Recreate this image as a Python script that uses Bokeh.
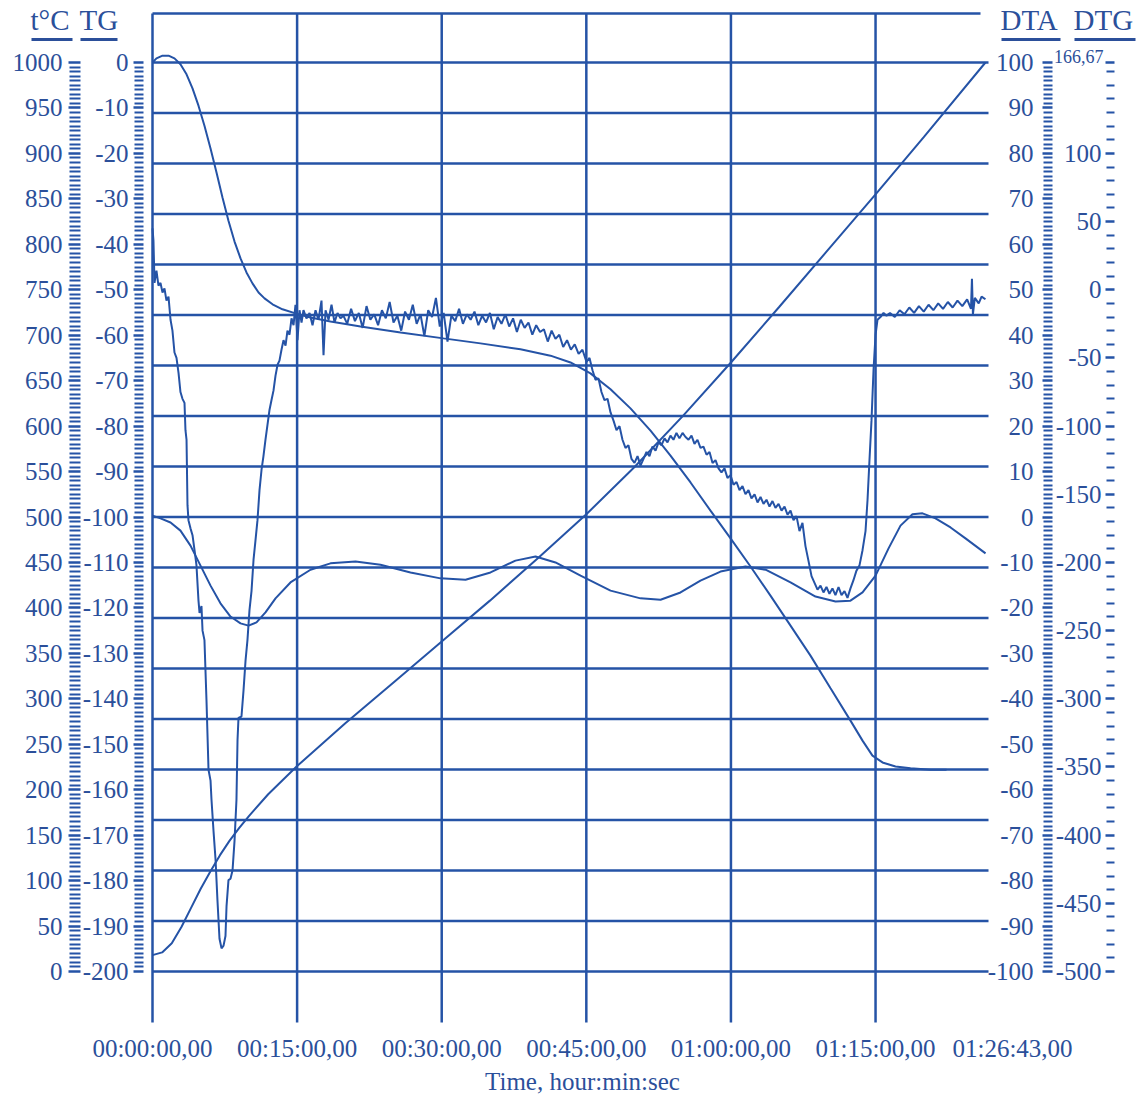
from bokeh.plotting import figure
from bokeh.models import Range1d, LinearAxis, FixedTicker, Label
from bokeh.embed import file_html
from bokeh.resources import INLINE

# ---------------- data ----------------
T_END = 86.7167  # 01:26:43

X_TICKS = [0, 15, 30, 45, 60, 75]
X_LABELS = ["00:00:00,00", "00:15:00,00", "00:30:00,00", "00:45:00,00", "01:00:00,00", "01:15:00,00"]
X_LAST_LABEL = "01:26:43,00"
X_TITLE = "Time, hour:min:sec"

TC_TICKS = [0, 50, 100, 150, 200, 250, 300, 350, 400, 450, 500, 550, 600, 650, 700, 750, 800, 850, 900, 950, 1000]
TG_TICKS = [0, -10, -20, -30, -40, -50, -60, -70, -80, -90, -100, -110, -120, -130, -140, -150, -160, -170, -180, -190, -200]
DTA_TICKS = [100, 90, 80, 70, 60, 50, 40, 30, 20, 10, 0, -10, -20, -30, -40, -50, -60, -70, -80, -90, -100]
DTG_TICKS = [100, 50, 0, -50, -100, -150, -200, -250, -300, -350, -400, -450, -500]
DTG_TOP = 166.67
DTG_TOP_LABEL = "166,67"
TITLES = ["t°C", "TG", "DTA", "DTG"]

# temperature, °C
TEMP_T = [0, 1, 2, 3, 4, 5, 6, 7, 8, 9, 10, 12, 15, 20, 25, 30, 35, 40, 45, 50, 55, 60, 65, 70, 75, 80, 86.4]
TEMP_V = [18, 21, 31, 49, 70, 91, 110, 128, 144, 158, 171, 195, 226, 273, 318, 363, 408, 455, 503, 555, 611, 670, 731, 793, 855, 918, 1000]

# TG, mg
TG_T = [0, 0.41, 1.04, 1.66, 2.28, 2.90, 3.53, 4.15, 4.77, 5.39,
        6.02, 6.64, 7.26, 7.88, 8.51, 9.13, 9.75, 10.37, 11.00, 11.62,
        12.45, 13.48, 14.83, 16.39, 18.46, 21.58, 25.73, 30.19, 34.02, 38.17,
        41.28, 43.36, 45.43, 47.51, 49.58, 51.66, 53.73, 55.81, 57.88, 59.96,
        62.03, 64.10, 66.18, 68.25, 70.33, 72.40, 73.65, 74.68, 75.72, 77.07,
        78.63, 80.70, 82.36]
TG_V = [0, 0.9, 1.5, 1.5, 0.9, -0.4, -2.6, -5.7, -9.5, -13.9,
        -18.9, -24.2, -29.7, -34.8, -39.4, -43.1, -46.2, -48.6, -50.6, -51.9,
        -53.2, -54.3, -55.2, -56.1, -57.0, -58.1, -59.4, -60.7, -61.8, -63.1,
        -64.5, -66.0, -68.4, -71.9, -76.1, -81.0, -86.5, -92.4, -98.6, -104.7,
        -110.9, -117.3, -123.9, -130.5, -137.7, -144.8, -149.2, -152.5, -154.0, -154.9,
        -155.3, -155.6, -155.6]

# DTA
DTA_T = [0, 0.83, 1.87, 2.90, 3.94, 4.98, 6.02, 7.05, 8.09, 9.13,
         9.96, 10.79, 11.72, 12.76, 14.31, 16.39, 18.46, 21.06, 23.65, 26.76,
         29.87, 32.47, 35.06, 37.65, 39.73, 41.80, 44.40, 47.51, 50.62, 52.70,
         54.77, 56.84, 58.92, 61.51, 63.59, 66.18, 68.77, 70.85, 72.40, 73.65,
         75.00, 76.35, 77.59, 78.83, 79.87, 81.22, 82.78, 84.33, 86.41]
DTA_V = [0.3, -0.3, -1.2, -3.0, -6.3, -10.7, -15.1, -19.0, -21.9, -23.4,
         -23.9, -23.2, -21.0, -17.9, -14.4, -11.6, -10.2, -9.8, -10.5, -12.2,
         -13.5, -13.8, -12.2, -9.6, -8.7, -10.0, -12.9, -16.2, -17.9, -18.2,
         -16.6, -14.0, -12.0, -10.9, -11.6, -14.4, -17.5, -18.6, -18.4, -16.6,
         -12.9, -6.9, -1.9, 0.6, 0.8, -0.3, -2.3, -4.7, -8.0]

# DTG
DTG_T = [0.00, 0.10, 0.21, 0.41, 0.62, 0.83, 1.04, 1.24, 1.45, 1.66,
         1.87, 2.07, 2.28, 2.49, 2.70, 2.90, 3.11, 3.32, 3.42, 3.53,
         3.63, 3.73, 3.94, 4.15, 4.36, 4.56, 4.77, 4.88, 5.08, 5.19,
         5.39, 5.60, 5.81, 6.02, 6.12, 6.33, 6.54, 6.74, 6.95, 7.16,
         7.37, 7.57, 7.68, 7.88, 8.09, 8.30, 8.51, 8.71, 8.82, 8.92,
         9.23, 9.44, 9.65, 9.85, 10.06, 10.27, 10.48, 10.68, 10.89, 11.10,
         11.31, 11.51, 11.72, 11.93, 12.14, 12.34, 12.55, 12.76, 12.97, 13.17,
         13.38, 13.59, 13.80, 14.00, 14.21, 14.42, 14.63, 14.83, 15.04, 15.25,
         15.46, 15.66, 15.97, 16.29, 16.60, 16.91, 17.22, 17.53, 17.74, 17.95,
         18.26, 18.57, 18.88, 19.19, 19.50,
         19.8, 20.2, 20.6, 21.0, 21.4, 21.8, 22.2, 22.6, 23.0, 23.4,
         23.8, 24.2, 24.6, 25.0, 25.4, 25.8, 26.2, 26.6, 27.0, 27.4,
         27.8, 28.2, 28.6, 29.0, 29.4, 29.8, 30.2, 30.6, 31.0, 31.4,
         31.8, 32.2, 32.6, 33.0, 33.4, 33.8, 34.2, 34.6, 35.0, 35.4,
         35.8, 36.2, 36.6, 37.0, 37.4, 37.8, 38.2, 38.6, 39.0, 39.4,
         39.8, 40.2, 40.6, 41.0, 41.4, 41.8, 42.2, 42.6, 43.0, 43.4,
         43.8, 44.2, 44.6,
         45.02, 45.33, 45.64, 45.95, 46.26, 46.57, 46.88, 47.20, 47.51, 47.82,
         48.13, 48.44, 48.75, 49.06, 49.37, 49.68, 50.00, 50.31, 50.62, 50.93,
         51.24, 51.55, 51.86, 52.18, 52.49, 52.80, 53.11, 53.42, 53.73, 54.04,
         54.35, 54.66, 54.98, 55.29, 55.60, 55.91, 56.22, 56.53, 56.84, 57.15,
         57.47, 57.78, 58.09, 58.40, 58.71, 59.02, 59.33, 59.64, 59.96, 60.27,
         60.58, 60.89, 61.20, 61.51, 61.82, 62.13, 62.45, 62.76, 63.07, 63.38,
         63.69, 64.00, 64.31, 64.62, 64.94, 65.25, 65.56, 65.87, 66.18, 66.49,
         66.80, 67.11, 67.42, 67.73, 68.05, 68.36, 68.67, 68.98, 69.29, 69.60,
         69.91, 70.22, 70.53, 70.84, 71.16, 71.47, 71.78, 72.09, 72.40, 72.71,
         73.02, 73.34, 73.65, 73.96, 74.17, 74.37, 74.58, 74.79, 75.00, 75.20,
         75.51, 75.83, 76.14,
         76.5, 77.0, 77.5, 78.0, 78.5, 79.0, 79.5, 80.0, 80.5, 81.0,
         81.5, 82.0, 82.5, 83.0, 83.5, 84.0, 84.5, 84.9, 85.0, 85.1,
         85.3, 85.7, 86.0, 86.4]
DTG_V = [45, 36, 5, 14, 3, 5, -2, 1, -8, -5,
         -22, -30, -46, -50, -61, -75, -80, -83, -103, -110,
         -158, -169, -175, -180, -191, -202, -228, -237, -232, -250,
         -257, -301, -352, -360, -374, -397, -418, -448, -476, -483,
         -481, -474, -452, -433, -432, -426, -404, -374, -330, -314,
         -313, -294, -272, -257, -235, -221, -198, -184, -169, -147,
         -132, -122, -110, -99, -88, -81, -74, -63, -55, -52,
         -44, -37, -41, -30, -33, -21, -26, -11, -37, -15,
         -24, -15, -21, -17, -26, -15, -22, -8, -48, -15,
         -22, -11, -24, -17, -21,
         -19, -25, -14, -23, -17, -28, -12, -22, -18, -26,
         -15, -21, -9, -24, -19, -30, -16, -22, -11, -25,
         -18, -34, -15, -20, -6, -27, -17, -38, -19, -23,
         -14, -25, -18, -22, -16, -26, -19, -24, -17, -29,
         -20, -25, -18, -27, -21, -31, -22, -28, -24, -33,
         -26, -31, -29, -38, -30, -36, -33, -42, -37, -44,
         -40, -47, -44,
         -53, -50, -59, -66, -65, -75, -81, -80, -90, -96,
         -103, -100, -110, -116, -114, -124, -127, -122, -129, -124,
         -119, -122, -115, -118, -112, -114, -109, -112, -107, -110,
         -105, -109, -105, -108, -110, -107, -113, -110, -116, -115,
         -121, -119, -127, -125, -131, -134, -131, -138, -136, -143,
         -141, -147, -144, -150, -147, -153, -150, -156, -152, -157,
         -154, -159, -155, -160, -157, -162, -159, -165, -162, -169,
         -166, -177, -171, -188, -199, -210, -215, -220, -217, -222,
         -218, -223, -219, -224, -218, -224, -221, -226, -219, -213,
         -206, -202, -191, -177, -154, -125, -96, -59, -33, -22,
         -20, -17, -19,
         -17, -20, -15, -18, -13, -17, -12, -16, -11, -15,
         -10, -14, -9, -13, -8, -12, -7, -14, 8, -18,
         -6, -10, -5, -7]

# ---------------- style / layout ----------------
LINE = "#2553a6"
TXT = "#2b4f9a"
FONT = "Liberation Serif"
W, H = 1143, 1097
CL, CR, CT, CB = 152, 988, 13, 1022        # chart box (px)
Y1000, Y0 = 62, 971                        # pixel rows of 1000 °C and 0 °C
PXC = (Y0 - Y1000) / 1000.0                # px per °C


def sx(px):  # screen x -> minutes
    return (px - CL) / (CR - CL) * T_END


def sy(py):  # screen y -> °C scale
    return (Y0 - py) / PXC


tc_lo, tc_hi = sy(H), sy(0)

p = figure(width=W, height=H, x_range=Range1d(sx(0), sx(W)), y_range=Range1d(tc_lo, tc_hi),
           x_axis_location=None, y_axis_location=None, output_backend="svg",
           toolbar_location=None, min_border=0, min_border_left=0, min_border_right=0,
           min_border_top=0, min_border_bottom=0)
p.outline_line_color = None
p.background_fill_color = "white"
p.border_fill_color = "white"
p.grid.visible = False

p.extra_y_ranges = {
    "tg": Range1d(tc_lo / 5 - 200, tc_hi / 5 - 200),
    "dta": Range1d(tc_lo / 5 - 100, tc_hi / 5 - 100),
    "dtg": Range1d(tc_lo * 0.66667 - 500, tc_hi * 0.66667 - 500),
}

# grid lines (18 equal bands between 0 and 1000 °C) and time lines
GRID_Y = [k * 1000 / 18 for k in range(19)]
p.segment(x0=[0] * len(GRID_Y), y0=GRID_Y, x1=[T_END] * len(GRID_Y), y1=GRID_Y,
          line_color=LINE, line_width=2.5)
p.segment(x0=X_TICKS, y0=[sy(CT)] * len(X_TICKS), x1=X_TICKS, y1=[sy(CB)] * len(X_TICKS),
          line_color=LINE, line_width=2.5)
p.segment(x0=[0], y0=[sy(CT)], x1=[sx(980)], y1=[sy(CT)], line_color=LINE, line_width=2.5)

# curves
p.line(TEMP_T, TEMP_V, line_color=LINE, line_width=2)
p.line(TG_T, TG_V, line_color=LINE, line_width=2, y_range_name="tg")
p.line(DTA_T, DTA_V, line_color=LINE, line_width=2, y_range_name="dta")
p.line(DTG_T, DTG_V, line_color=LINE, line_width=2, y_range_name="dtg")


def minors(lo, hi, step, majors):
    out = []
    v = lo
    while v <= hi + 1e-9:
        if all(abs(v - m) > 1e-6 for m in majors):
            out.append(round(v, 4))
        v += step
    return out


def yaxis(range_name, ticks, minor, at_px, tout, standoff, overrides=None):
    kw = {} if range_name is None else {"y_range_name": range_name}
    ax = LinearAxis(ticker=FixedTicker(ticks=ticks, minor_ticks=minor), **kw)
    ax.fixed_location = sx(at_px)
    ax.axis_line_color = None
    ax.major_tick_in = 0
    ax.major_tick_out = tout
    ax.minor_tick_in = 0
    ax.minor_tick_out = tout - 1
    ax.major_tick_line_color = LINE
    ax.minor_tick_line_color = LINE
    ax.major_tick_line_width = 2.5
    ax.minor_tick_line_width = 2
    ax.major_label_standoff = standoff
    ax.major_label_text_font = FONT
    ax.major_label_text_font_size = "25px"
    ax.major_label_text_color = TXT
    ax.major_label_overrides = overrides if overrides is not None else {v: str(v) for v in ticks}
    p.add_layout(ax, "left")
    return ax


yaxis(None, TC_TICKS, minors(0, 1000, 5, TC_TICKS), 80, 12, 6)
yaxis("tg", TG_TICKS, minors(-200, 0, 1, TG_TICKS), 143, 10, 5)
yaxis("dta", DTA_TICKS, minors(-100, 100, 1, DTA_TICKS), 1052, 10, 9)
dtg_over = {v: str(v) for v in DTG_TICKS}
dtg_over[DTG_TOP] = ""
yaxis("dtg", DTG_TICKS + [DTG_TOP], minors(-500, 160, 10, DTG_TICKS), 1114, 9, 4, dtg_over)

p.add_layout(Label(x=sx(1103), y=DTG_TOP, y_range_name="dtg", text=DTG_TOP_LABEL, text_align="right",
                   text_baseline="middle", y_offset=6, text_font=FONT, text_font_size="18px", text_color=TXT))

# x axis
ax_x = LinearAxis(ticker=FixedTicker(ticks=X_TICKS),
                  major_label_overrides={t: s for t, s in zip(X_TICKS, X_LABELS)})
ax_x.fixed_location = sy(CB)
ax_x.axis_line_color = None
ax_x.major_tick_line_color = None
ax_x.minor_tick_line_color = None
ax_x.major_tick_in = 0
ax_x.major_tick_out = 0
ax_x.major_label_standoff = 12
ax_x.major_label_text_font = FONT
ax_x.major_label_text_font_size = "25px"
ax_x.major_label_text_color = TXT
p.add_layout(ax_x, "below")

p.add_layout(Label(x=sx(1012), y=sy(1048), text=X_LAST_LABEL, text_align="center", text_baseline="middle",
                   text_font=FONT, text_font_size="25px", text_color=TXT))
p.add_layout(Label(x=sx(582), y=sy(1081), text=X_TITLE, text_align="center",
                   text_baseline="middle", text_font=FONT, text_font_size="25px", text_color=TXT))

# titles with underline
T_LEFT = [30, 79, 1000, 1073]
T_RIGHT = [72, 117, 1060, 1135]
for title, left in zip(TITLES, T_LEFT):
    p.add_layout(Label(x=sx(left), y=sy(19), text=title, text_align="left", text_baseline="middle",
                       text_font=FONT, text_font_size="29px", text_color=TXT))
p.segment(x0=[sx(v + 1) for v in T_LEFT], y0=[sy(39)] * 4, x1=[sx(v) for v in T_RIGHT], y1=[sy(39)] * 4,
          line_color=TXT, line_width=3)

open("out.html", "w").write(file_html(p, INLINE))
